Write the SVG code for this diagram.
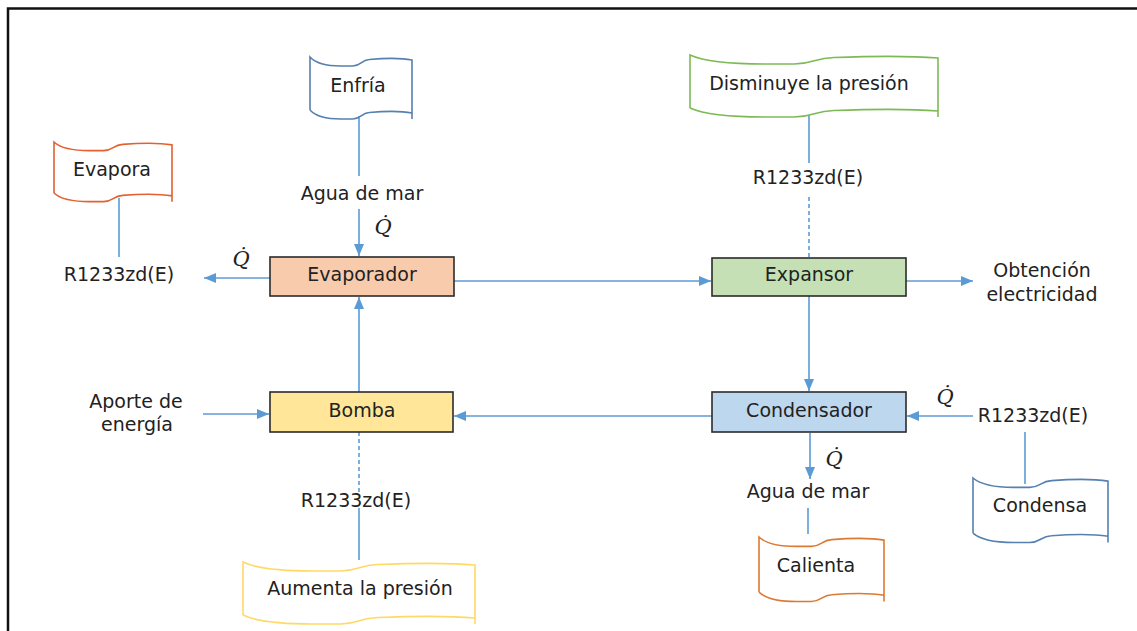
<svg xmlns="http://www.w3.org/2000/svg" xmlns:xlink="http://www.w3.org/1999/xlink" width="1137" height="631" viewBox="0 0 1137 631">
<style>
text{font-family:"DejaVu Sans","Liberation Sans",sans-serif;font-size:19px;fill:#222;text-anchor:middle}
.q{font-family:"DejaVu Serif","Liberation Serif",serif;font-style:italic;font-size:21px}
.box{stroke:#2b2b2b;stroke-width:1.6}
.tape{fill:none;stroke-width:1.6}
.c{fill:none;stroke:#5B9BD5;stroke-width:1.6}
.d{stroke-dasharray:4 3}
.a{marker-end:url(#arr)}
</style>
<defs>
<marker id="arr" markerUnits="userSpaceOnUse" markerWidth="12" markerHeight="10" refX="12" refY="5" orient="auto">
<path d="M0,0 L12,5 L0,10 Z" fill="#5B9BD5"/>
</marker>
<path id="tp" vector-effect="non-scaling-stroke" d="M0,53 L0,0 Q8,9 30,9 L42,9 C50,9 50,3 58,2.5 Q85,0 100,3 L100,62 M100,56 Q85,53 58,55.5 C50,56 50,62 42,62 L30,62 Q8,62 0,53"/>
</defs>
<rect width="1137" height="631" fill="#fff"/>
<path d="M8,631 V8.5 H1137" fill="none" stroke="#111" stroke-width="2.5"/>

<g id="connectors">
<path class="c" d="M359,116 V176"/>
<path class="c a" d="M359,209 V256"/>
<path class="c" d="M119,198 V257"/>
<path class="c a" d="M270,278 H204"/>
<path class="c a" d="M454,281 H711"/>
<path class="c" d="M809,115 V163"/>
<path class="c d" d="M809,197 V257"/>
<path class="c a" d="M906,281 H973"/>
<path class="c a" d="M809,296 V391"/>
<path class="c a" d="M712,416 H454"/>
<path class="c a" d="M973,416 H907"/>
<path class="c" d="M1025,432 V484"/>
<path class="c a" d="M810,433 V479"/>
<path class="c" d="M808,508 V534"/>
<path class="c a" d="M203,414 H269"/>
<path class="c a" d="M359,392 V297"/>
<path class="c d" d="M359,432 V492"/>
<path class="c" d="M359,508 V560"/>
</g>

<g id="enfria">
<use href="#tp" class="tape" stroke="#5580B0" transform="translate(310,57) scale(1.02,1)"/>
<text x="358" y="92">Enfría</text>
</g>
<g id="evapora">
<use href="#tp" class="tape" stroke="#E2612F" transform="translate(54,142) scale(1.18,0.962)"/>
<text x="112" y="176">Evapora</text>
</g>
<g id="disminuye">
<use href="#tp" class="tape" stroke="#7DBA55" transform="translate(690,55) scale(2.48,1)"/>
<text x="809" y="90">Disminuye la presión</text>
</g>
<g id="condensa">
<use href="#tp" class="tape" stroke="#5580B0" transform="translate(973,478) scale(1.35,1.04)"/>
<text x="1040" y="512">Condensa</text>
</g>
<g id="calienta">
<use href="#tp" class="tape" stroke="#DC7A33" transform="translate(759,537) scale(1.25,1.04)"/>
<text x="816" y="572">Calienta</text>
</g>
<g id="aumenta">
<use href="#tp" class="tape" stroke="#FFD966" transform="translate(243,562) scale(2.32,1)"/>
<text x="360" y="595">Aumenta la presión</text>
</g>

<g id="evaporador">
<rect class="box" x="270" y="257" width="184" height="39" fill="#F8CBAD"/>
<text x="362" y="281">Evaporador</text>
</g>
<g id="expansor">
<rect class="box" x="712" y="258" width="194" height="38" fill="#C5E0B4"/>
<text x="809" y="281">Expansor</text>
</g>
<g id="bomba">
<rect class="box" x="270" y="392" width="183" height="40" fill="#FFE699"/>
<text x="362" y="417">Bomba</text>
</g>
<g id="condensador">
<rect class="box" x="712" y="392" width="194" height="40" fill="#BDD7EE"/>
<text x="809" y="417">Condensador</text>
</g>

<g id="labels">
<text x="362" y="200">Agua de mar</text>
<text x="119" y="281">R1233zd(E)</text>
<text x="808" y="184">R1233zd(E)</text>
<text x="1042" y="277">Obtención</text>
<text x="1042" y="301">electricidad</text>
<text x="136" y="408">Aporte de</text>
<text x="137" y="431">energía</text>
<text x="1033" y="422">R1233zd(E)</text>
<text x="808" y="498">Agua de mar</text>
<text x="356" y="507">R1233zd(E)</text>
<text class="q" x="383" y="234">Q̇</text>
<text class="q" x="241" y="266">Q̇</text>
<text class="q" x="945" y="404">Q̇</text>
<text class="q" x="834" y="466">Q̇</text>
</g>
</svg>
